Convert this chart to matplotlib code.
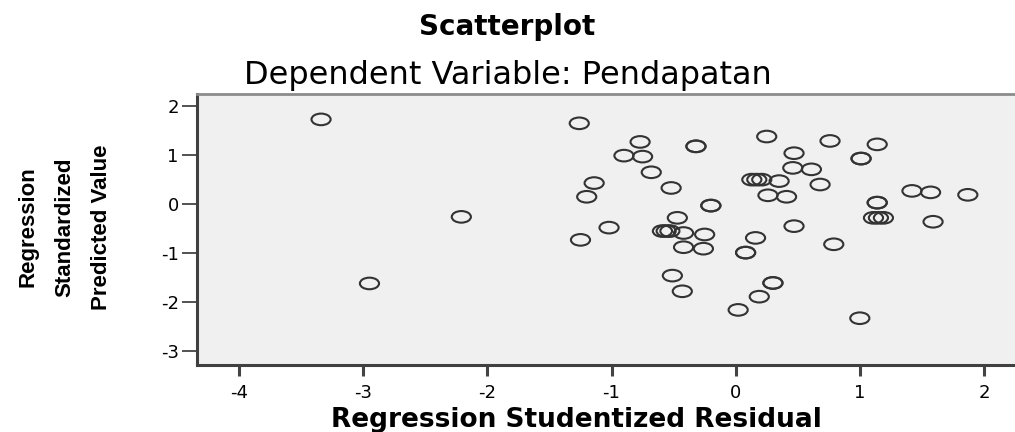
import matplotlib
matplotlib.use("Agg")
import numpy as np
from matplotlib import pyplot as plt
from matplotlib.path import Path

plt.rcParams["axes.unicode_minus"] = False

# Residual (x) and predicted value (y)
resid = [-3.34, -2.95, -2.21, -1.26, -1.14, -1.20, -1.25, -1.02,
         -0.77, -0.32, -0.32, -0.90, -0.75, -0.68, -0.52, -0.20, -0.20,
         -0.47, -0.59, -0.56, -0.53, -0.42, -0.25, -0.42, -0.26,
         0.16, 0.08, 0.08, 0.47, 0.79, -0.51, -0.43, 0.30, 0.30,
         0.19, 0.02, 1.00, 0.25, 0.76, 1.14, 0.47, 1.01, 1.01,
         0.46, 0.61, 0.13, 0.17, 0.21, 0.35, 0.68, 0.26, 0.41,
         1.42, 1.57, 1.87, 1.14, 1.14, 1.11, 1.15, 1.19, 1.59]
pred = [1.73, -1.62, -0.26, 1.65, 0.43, 0.15, -0.73, -0.48,
        1.27, 1.18, 1.18, 0.99, 0.97, 0.65, 0.33, -0.03, -0.03,
        -0.28, -0.55, -0.55, -0.55, -0.59, -0.62, -0.88, -0.91,
        -0.69, -0.99, -0.99, -0.45, -0.82, -1.46, -1.78, -1.61, -1.61,
        -1.89, -2.16, -2.33, 1.38, 1.29, 1.22, 1.04, 0.93, 0.93,
        0.74, 0.71, 0.50, 0.50, 0.50, 0.47, 0.40, 0.18, 0.15,
        0.27, 0.24, 0.19, 0.03, 0.03, -0.28, -0.28, -0.28, -0.36]

xticks = [-4, -3, -2, -1, 0, 1, 2]
yticks = [-3, -2, -1, 0, 1, 2]

# Open ellipse marker (reference picture is horizontally stretched)
circ = Path.unit_circle()
ellipse = Path(circ.vertices * np.array([1.65, 1.0]), circ.codes)

fig = plt.figure(figsize=(10.15, 4.32), dpi=100)
ax = fig.add_axes([0.194, 0.155, 0.806, 0.627])
ax.set_facecolor("#f0f0f0")

ax.scatter(resid, pred, marker=ellipse, s=190, facecolors="none",
           edgecolors="#333333", linewidths=1.5)

ax.set_xlim(-4.34, 2.25)
ax.set_ylim(-3.286, 2.245)
ax.set_xticks(xticks)
ax.set_yticks(yticks)
ax.tick_params(axis="x", direction="out", length=8, width=2.2,
               color="#444444", labelsize=13, pad=6)
ax.tick_params(axis="y", direction="out", length=11, width=1.3,
               color="#444444", labelsize=13, pad=2)

for side in ["left", "bottom"]:
    ax.spines[side].set_linewidth(2.2)
    ax.spines[side].set_color("#404040")
ax.spines["top"].set_linewidth(2)
ax.spines["top"].set_color("#8c8c8c")
ax.spines["right"].set_visible(False)

fig.text(0.5, 0.937, "Scatterplot", ha="center", va="center",
         fontsize=20, fontweight="bold")
fig.text(0.5, 0.826, "Dependent Variable: Pendapatan", ha="center",
         va="center", fontsize=23)
fig.text(0.568, 0.027, "Regression Studentized Residual", ha="center",
         va="center", fontsize=19, fontweight="bold")
fig.text(0.064, 0.475, "Regression\nStandardized\nPredicted Value",
         ha="center", va="center", rotation=90, fontsize=16,
         fontweight="bold", linespacing=2.0,
         family=["Liberation Sans Narrow", "Liberation Sans", "DejaVu Sans"])

fig.savefig("out.png", dpi=100)
